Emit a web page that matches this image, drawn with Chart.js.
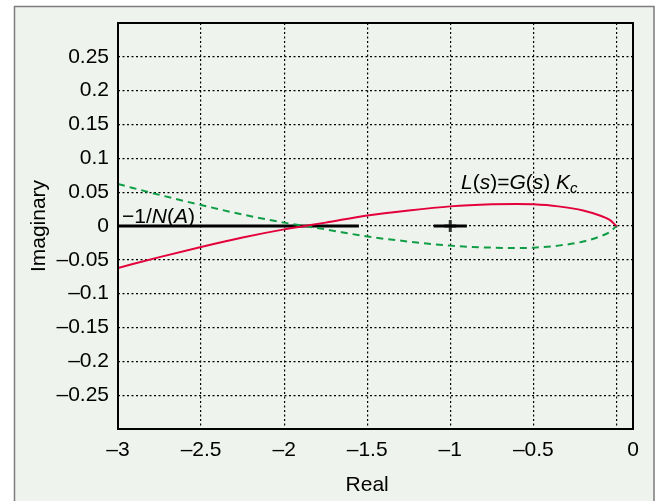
<!DOCTYPE html>
<html>
<head>
<meta charset="utf-8">
<script src="https://cdn.jsdelivr.net/npm/chart.js@4.4.1/dist/chart.umd.min.js"></script>
<style>
  html, body { margin: 0; padding: 0; background: #ffffff; }
  canvas { display: block; }
</style>
</head>
<body>
<canvas id="nyquistChart" width="655" height="501"></canvas>
<script>
// Nyquist locus of L(s)=G(s)Kc: positive frequencies (red), negative frequencies (green)
const realPart = [-3, -2.75, -2.5, -2.25, -2, -1.9, -1.75, -1.5, -1.25, -1, -0.75, -0.6, -0.5, -0.35, -0.2, -0.1, -0.04, 0];
const imagPositive = [-0.062, -0.046, -0.031, -0.017, -0.005, -0.001, 0.005, 0.0155, 0.023, 0.029, 0.032, 0.0325, 0.032, 0.029, 0.023, 0.0155, 0.009, 0];
const imagNegative = [0.062, 0.046, 0.031, 0.017, 0.005, 0.001, -0.005, -0.0155, -0.023, -0.029, -0.032, -0.0325, -0.032, -0.029, -0.023, -0.0155, -0.009, 0];

// -1/N(A) locus lying on the real axis
const dfOuterReal = [-3, -1.55];
const dfInnerReal = [-1.1, -0.9];
const dfImag = [0, 0];
const crossReal = [-1];
const crossImag = [0];

// axis ticks
const xTickValues = [-3, -2.5, -2, -1.5, -1, -0.5, 0, 0.1];
const xTickLabels = ['–3', '–2.5', '–2', '–1.5', '–1', '–0.5', '', '0'];
const yTickValues = [-0.25, -0.2, -0.15, -0.1, -0.05, 0, 0.05, 0.1, 0.15, 0.2, 0.25];
const yTickLabels = ['–0.25', '–0.2', '–0.15', '–0.1', '–0.05', '0', '0.05', '0.1', '0.15', '0.2', '0.25'];

const FONT = '"Liberation Sans", Arial, Helvetica, sans-serif';

function toPoints(xs, ys) {
    return xs.map((x, i) => ({ x: x, y: ys[i] }));
}

// draw a string made of upright / italic / subscript parts
function drawRich(ctx, parts, x, y, size) {
    ctx.textAlign = 'left';
    ctx.textBaseline = 'alphabetic';
    let cx = x;
    parts.forEach(p => {
        const s = p.sub ? Math.round(size * 0.7) : size;
        ctx.font = (p.italic ? 'italic ' : '') + s + 'px ' + FONT;
        ctx.fillText(p.text, cx, p.sub ? y + 4 : y);
        cx += ctx.measureText(p.text).width;
    });
}

const figureFrame = {
    id: 'figureFrame',
    beforeDraw(chart) {
        const ctx = chart.ctx;
        ctx.save();
        ctx.fillStyle = '#ffffff';
        ctx.fillRect(0, 0, chart.width, chart.height);
        ctx.fillStyle = '#eff3ed';
        ctx.fillRect(14, 6, chart.width - 14, chart.height - 6);
        ctx.strokeStyle = '#7d7d7d';
        ctx.lineWidth = 1.5;
        ctx.strokeRect(14.5, 6.5, chart.width - 15.5, chart.height);
        ctx.restore();
    },
    afterDraw(chart) {
        const { ctx, chartArea: a, scales: { x, y } } = chart;
        ctx.save();
        // axes box
        ctx.strokeStyle = '#000000';
        ctx.lineWidth = 2;
        ctx.strokeRect(a.left, a.top, a.right - a.left, a.bottom - a.top);

        ctx.fillStyle = '#000000';
        ctx.font = '21px ' + FONT;
        ctx.textAlign = 'center';
        ctx.textBaseline = 'alphabetic';
        ctx.fillText('Real', x.getPixelForValue(-1.5), 491);

        drawRich(ctx, [
            { text: '\u22121/' },
            { text: 'N', italic: true },
            { text: '(' },
            { text: 'A', italic: true },
            { text: ')' }
        ], 122, y.getPixelForValue(0) - 3, 21);

        drawRich(ctx, [
            { text: 'L', italic: true },
            { text: '(' },
            { text: 's', italic: true },
            { text: ')=' },
            { text: 'G', italic: true },
            { text: '(' },
            { text: 's', italic: true },
            { text: ') ' },
            { text: 'K', italic: true },
            { text: 'c', italic: true, sub: true }
        ], 461, 189, 21);
        ctx.restore();
    }
};

const ctx = document.getElementById('nyquistChart').getContext('2d');
new Chart(ctx, {
    type: 'scatter',
    data: {
        datasets: [
            {
                label: 'L(jw), w > 0',
                data: toPoints(realPart, imagPositive),
                showLine: true,
                borderColor: '#e3003b',
                borderWidth: 2,
                pointRadius: 0,
                cubicInterpolationMode: 'monotone'
            },
            {
                label: 'L(jw), w < 0',
                data: toPoints(realPart, imagNegative),
                showLine: true,
                borderColor: '#0f9e45',
                borderWidth: 2,
                borderDash: [7, 5],
                pointRadius: 0,
                cubicInterpolationMode: 'monotone'
            },
            {
                label: '-1/N(A)',
                data: toPoints(dfOuterReal, dfImag),
                showLine: true,
                borderColor: '#000000',
                borderWidth: 3,
                pointRadius: 0
            },
            {
                label: '-1/N(A) inner',
                data: toPoints(dfInnerReal, dfImag),
                showLine: true,
                borderColor: '#000000',
                borderWidth: 3,
                pointRadius: 0
            },
            {
                label: 'critical point',
                data: toPoints(crossReal, crossImag),
                pointStyle: 'cross',
                pointRadius: 6,
                borderColor: '#333333',
                borderWidth: 3
            }
        ]
    },
    options: {
        responsive: false,
        animation: false,
        layout: { padding: { top: 23, right: 22, left: 0, bottom: 0 } },
        plugins: {
            legend: { display: false },
            tooltip: { enabled: false }
        },
        scales: {
            x: {
                type: 'linear',
                min: -3,
                max: 0.1,
                afterBuildTicks: scale => {
                    scale.ticks = xTickValues.map(v => ({ value: v }));
                },
                afterFit: scale => { scale.height = 72; },
                ticks: {
                    color: '#000000',
                    font: { family: FONT, size: 21 },
                    padding: 9,
                    maxRotation: 0,
                    autoSkip: false,
                    callback: value => xTickLabels[xTickValues.indexOf(value)]
                },
                grid: {
                    color: '#000000',
                    lineWidth: 1.2,
                    drawTicks: false
                },
                border: { display: false, dash: [2, 2.5] }
            },
            y: {
                type: 'linear',
                min: -0.3,
                max: 0.3,
                afterBuildTicks: scale => {
                    scale.ticks = yTickValues.map(v => ({ value: v }));
                },
                afterFit: scale => { scale.width = 118; },
                ticks: {
                    color: '#000000',
                    font: { family: FONT, size: 21 },
                    padding: 9,
                    autoSkip: false,
                    callback: value => yTickLabels[yTickValues.indexOf(value)]
                },
                grid: {
                    color: '#000000',
                    lineWidth: 1.2,
                    drawTicks: false
                },
                border: { display: false, dash: [2, 2.5] },
                title: {
                    display: true,
                    text: 'Imaginary',
                    color: '#000000',
                    font: { family: FONT, size: 21 },
                    padding: { top: 27, bottom: 0 }
                }
            }
        }
    },
    plugins: [figureFrame]
});
</script>
</body>
</html>
